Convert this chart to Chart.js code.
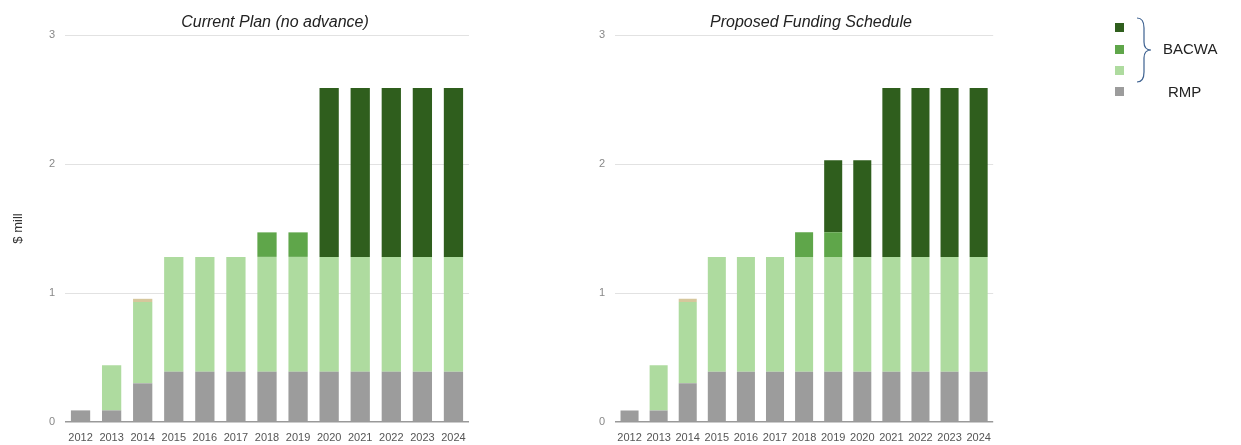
<!DOCTYPE html>
<html>
<head>
<meta charset="utf-8">
<script src="https://cdn.jsdelivr.net/npm/chart.js@4.4.1/dist/chart.umd.min.js"></script>
<style>
body { margin:0; background:#fff; font-family:"Liberation Sans", Arial, sans-serif; }
#wrap { position:relative; width:1241px; height:445px; overflow:hidden; }
.box { position:absolute; top:0; height:445px; }
.ttl { position:absolute; top:13px; font-style:italic; font-size:16px; color:#222; transform:translateX(-50%); white-space:nowrap; }
.sq { position:absolute; left:1115px; width:9px; height:9px; }
.lbl { position:absolute; font-size:15px; color:#222; }
</style>
</head>
<body>
<div id="wrap">
  <div class="box" style="left:0;width:480px"><canvas id="chartLeft"></canvas></div>
  <div class="box" style="left:560px;width:440px"><canvas id="chartRight"></canvas></div>
  <div class="ttl" style="left:275px">Current Plan (no advance)</div>
  <div class="ttl" style="left:811px">Proposed Funding Schedule</div>

  <div class="sq" style="top:23px;background:#2f5e1d"></div>
  <div class="sq" style="top:45px;background:#5fa64a"></div>
  <div class="sq" style="top:66px;background:#aedb9f"></div>
  <div class="sq" style="top:87px;background:#9c9c9c"></div>
  <svg style="position:absolute;left:0;top:0" width="1241" height="445">
    <path d="M1137 18 Q1144 18 1144 28 L1144 42 Q1144 50 1151 50 Q1144 50 1144 58 L1144 72 Q1144 82 1137 82"
          fill="none" stroke="#3d6190" stroke-width="1.2"/>
  </svg>
  <div class="lbl" style="left:1163px;top:40px">BACWA</div>
  <div class="lbl" style="left:1168px;top:83px">RMP</div>
</div>

<script>
// categories and series ($ mill), stacked bottom to top
const years = ['2012','2013','2014','2015','2016','2017','2018','2019','2020','2021','2022','2023','2024'];
const yTicks = [0, 1, 2, 3];

const rmp         = [0.09, 0.09, 0.30, 0.39, 0.39, 0.39, 0.39, 0.39, 0.39, 0.39, 0.39, 0.39, 0.39];
const bacwaLight  = [0,    0.35, 0.63, 0.89, 0.89, 0.89, 0.89, 0.89, 0.89, 0.89, 0.89, 0.89, 0.89];
const otherSliver = [0,    0,    0.025,0,    0,    0,    0,    0,    0,    0,    0,    0,    0   ];

// current plan
const curMid  = [0, 0, 0, 0, 0, 0, 0.19, 0.19, 0,    0,    0,    0,    0   ];
const curDark = [0, 0, 0, 0, 0, 0, 0,    0,    1.31, 1.31, 1.31, 1.31, 1.31];

// proposed schedule
const propMid  = [0, 0, 0, 0, 0, 0, 0.19, 0.19, 0,    0,    0,    0,    0   ];
const propDark = [0, 0, 0, 0, 0, 0, 0,    0.56, 0.75, 1.31, 1.31, 1.31, 1.31];

const colors = { rmp:'#9c9c9c', light:'#aedb9f', sliver:'#d6c79c', mid:'#5fa64a', dark:'#2f5e1d' };

function makeSets(mid, dark) {
    const bar = { categoryPercentage:1, barPercentage:0.62 };
    return [
        { label:'RMP',   data:rmp,         backgroundColor:colors.rmp,    ...bar },
        { label:'BACWA', data:bacwaLight,  backgroundColor:colors.light,  ...bar },
        { label:'',      data:otherSliver, backgroundColor:colors.sliver, ...bar },
        { label:'BACWA', data:mid,         backgroundColor:colors.mid,    ...bar },
        { label:'BACWA', data:dark,        backgroundColor:colors.dark,   ...bar }
    ];
}

function makeChart(id, mid, dark, axisW, padRight, showTitle) {
    new Chart(document.getElementById(id), {
        type: 'bar',
        data: { labels: years, datasets: makeSets(mid, dark) },
        options: {
            responsive: false,
            animation: false,
            layout: { padding: { top:35, right:padRight, bottom:0, left:0 } },
            plugins: { legend:{display:false}, tooltip:{enabled:false} },
            scales: {
                x: {
                    stacked: true,
                    grid: { display:false, drawTicks:false },
                    border: { display:false },
                    ticks: { color:'#555', font:{ size:11 }, padding:9, maxRotation:0, autoSkip:false },
                    afterFit: (s) => { s.height = 23; }
                },
                y: {
                    stacked: true,
                    min: 0, max: 3,
                    afterBuildTicks: (s) => { s.ticks = yTicks.map(v => ({ value:v })); },
                    border: { display:false },
                    grid: {
                        drawTicks: false,
                        color: (c) => c.tick && c.tick.value === 0 ? '#999' : '#e2e2e2',
                        lineWidth: (c) => c.tick && c.tick.value === 0 ? 1.5 : 1
                    },
                    ticks: { color:'#888', font:{ size:11 }, padding:10 },
                    title: { display:showTitle, text:'$ mill', color:'#333', font:{ size:13 }, padding:{ top:11, bottom:0 } },
                    afterFit: (s) => { s.width = axisW; }
                }
            }
        }
    });
}

function sizeCanvas(id, w) {
    const c = document.getElementById(id);
    c.width = w; c.height = 445;
    c.style.width = w + 'px'; c.style.height = '445px';
}

sizeCanvas('chartLeft', 480);
sizeCanvas('chartRight', 440);
makeChart('chartLeft', curMid, curDark, 65, 11, true);
makeChart('chartRight', propMid, propDark, 55, 3, false);
</script>
</body>
</html>
